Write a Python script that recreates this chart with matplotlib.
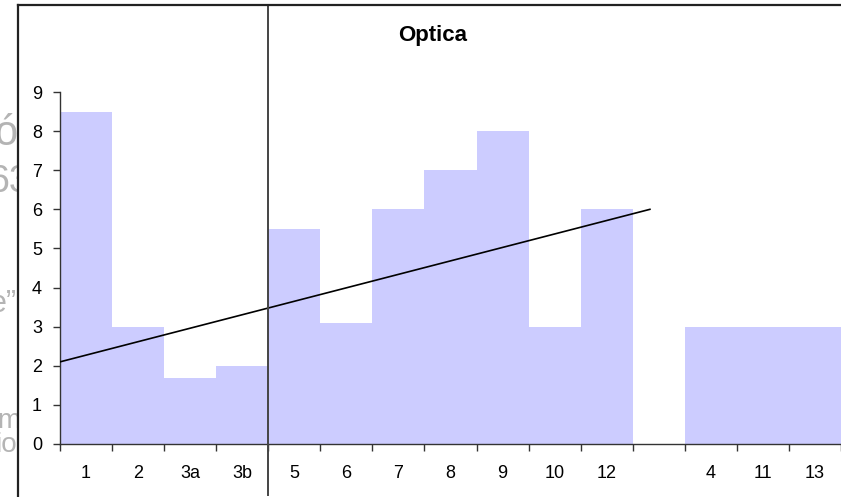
import matplotlib
matplotlib.use("Agg")
import numpy as np
from matplotlib import pyplot as plt
from matplotlib.lines import Line2D
from matplotlib.patches import Rectangle
import matplotlib.transforms as mtransforms

plt.rcParams['font.family'] = ['Liberation Sans', 'DejaVu Sans']

# data
categories = ["1", "2", "3a", "3b", "5", "6", "7", "8", "9", "10", "12", "", "4", "11", "13"]
values = [8.5, 3, 1.7, 2, 5.5, 3.1, 6, 7, 8, 3, 6, 0, 3, 3, 3]
trend_x = [-0.5, 10.83]
trend_y = [2.1, 6.0]
split_at = 3.5
title = "Optica"

W, H = 841, 497
fig = plt.figure(figsize=(W / 100, H / 100), dpi=100)

def px(x, y):
    return x / W, 1 - y / H

# faint text from behind the chart, clipped by the white chart area
ghost = [("ó", 17, 145, 30), ("63", 30, 192, 27), ("e\u201d", 17, 312, 22),
         ("m", 20, 428, 20), ("io", 17, 452, 20)]
for s, x, y, fs in ghost:
    fx, fy = px(x, y)
    fig.text(fx, fy, s, ha="right", va="baseline", fontsize=fs, color="#b4b4b4", zorder=-2)

x0, y0 = px(18, 5)
fig.add_artist(Rectangle((x0, 0), 1 - x0, y0, transform=fig.transFigure,
                         facecolor="white", edgecolor="none", zorder=-1))
fig.add_artist(Line2D([x0, x0], [0, y0], transform=fig.transFigure, color="#222222", lw=1.6))
fig.add_artist(Line2D([x0, 1], [y0, y0], transform=fig.transFigure, color="#222222", lw=1.6))

left, top = px(60, 92)
_, bottom = px(60, 444)
ax = fig.add_axes([left, bottom, 1 - left, top - bottom])
ax.set_facecolor("none")

x = np.arange(len(categories))
ax.bar(x, values, width=1.0, color="#ccccff", zorder=1)
ax.plot(trend_x, trend_y, color="black", lw=1.2, zorder=3)

ax.set_xlim(-0.5, len(categories) - 0.5)
ax.set_ylim(0, 9)
ax.set_yticks(range(0, 10))
ax.set_xticks(np.arange(len(categories) + 1) - 0.5)
ax.set_xticklabels([])
ax.set_xticks(x, minor=True)
ax.set_xticklabels(categories, minor=True)
ax.tick_params(axis="x", which="minor", length=0, pad=15, labelsize=13)
ax.tick_params(axis="x", which="major", length=5, width=1, color="#333333")
ax.tick_params(axis="y", length=5, width=1, color="#333333", pad=8, labelsize=13)

for s in ["top", "right"]:
    ax.spines[s].set_visible(False)
for s in ["left", "bottom"]:
    ax.spines[s].set_color("#333333")
    ax.spines[s].set_linewidth(1.0)

# vertical separator running through the whole chart area
trans = mtransforms.blended_transform_factory(ax.transData, fig.transFigure)
ax.plot([split_at, split_at], [1 - 495 / H, y0], transform=trans, color="#444444",
        lw=1.4, clip_on=False, zorder=4)

tx, ty = px(433, 35)
fig.text(tx, ty, title, ha="center", va="center", fontsize=16, fontweight="bold")

fig.savefig("out.png", dpi=100)
